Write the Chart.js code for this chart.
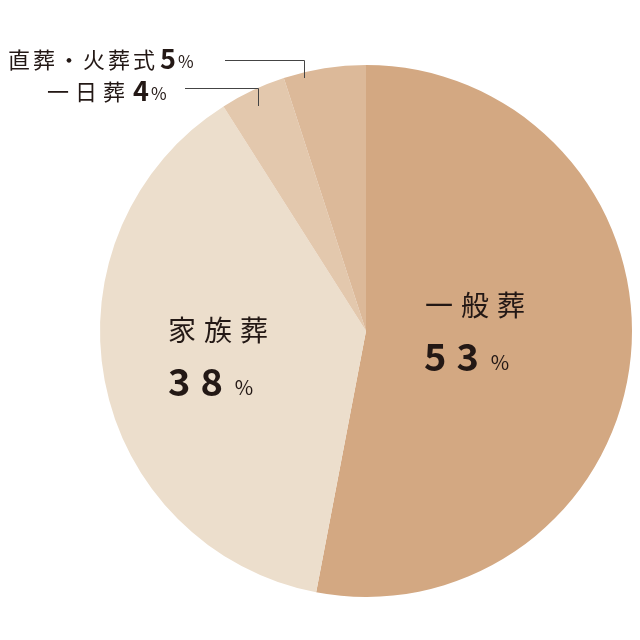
<!DOCTYPE html><html><head><meta charset="utf-8">
<script src="https://cdn.jsdelivr.net/npm/chart.js@4"></script>
<style>html,body{margin:0;background:#fff}#w{width:640px;height:640px;position:relative}</style></head>
<body><div id="w"><canvas id="c"></canvas></div>
<script>
const categories=["一般葬","家族葬","一日葬","直葬・火葬式"];
const values=[53,38,4,5];
const colors=["#d3a882","#ecdecc","#e3c8ad","#dcb999"];
const F='"Noto Sans CJK JP", sans-serif';
function txt(ctx,s,x,y,size,weight,ls){ctx.font=weight+" "+size+"px "+F;ctx.textBaseline="middle";ctx.textAlign="left";
 let cx=x;for(const ch of s){ctx.fillText(ch,cx,y);cx+=ctx.measureText(ch).width+(ls||0);}return cx;}
const labels={id:"labels",afterDraw(ch){const ctx=ch.ctx;ctx.save();ctx.fillStyle="#231815";
 txt(ctx,"一般葬",425,305,28,"400",8);let x=txt(ctx,"53",424,357,38,"700",10);txt(ctx,"%",x+2,362,20,"400");
 txt(ctx,"家族葬",168,330,28,"400",8);x=txt(ctx,"38",168,382,38,"700",10);txt(ctx,"%",x+2,387,20,"400");
 x=txt(ctx,"直葬・火葬式",8,60,22,"400",3);x=txt(ctx,"5",x+2,59,27,"700");txt(ctx,"%",x+2,62,17,"400");
 x=txt(ctx,"一日葬",47,92,22,"400",6);x=txt(ctx,"4",x+2,91,27,"700");txt(ctx,"%",x+2,94,17,"400");
 ctx.strokeStyle="#444";ctx.lineWidth=1;ctx.beginPath();
 ctx.moveTo(225,60.5);ctx.lineTo(304.5,60.5);ctx.lineTo(304.5,78);
 ctx.moveTo(185,88.5);ctx.lineTo(258.5,88.5);ctx.lineTo(258.5,106);ctx.stroke();ctx.restore();}};
new Chart(document.getElementById("c"),{type:"pie",data:{labels:categories,datasets:[{data:values,backgroundColor:colors,borderWidth:0}]},
options:{responsive:true,maintainAspectRatio:false,animation:false,layout:{padding:{left:100,right:8,top:65,bottom:43}},
plugins:{legend:{display:false},tooltip:{enabled:false}}},plugins:[labels]});
</script></body></html>
